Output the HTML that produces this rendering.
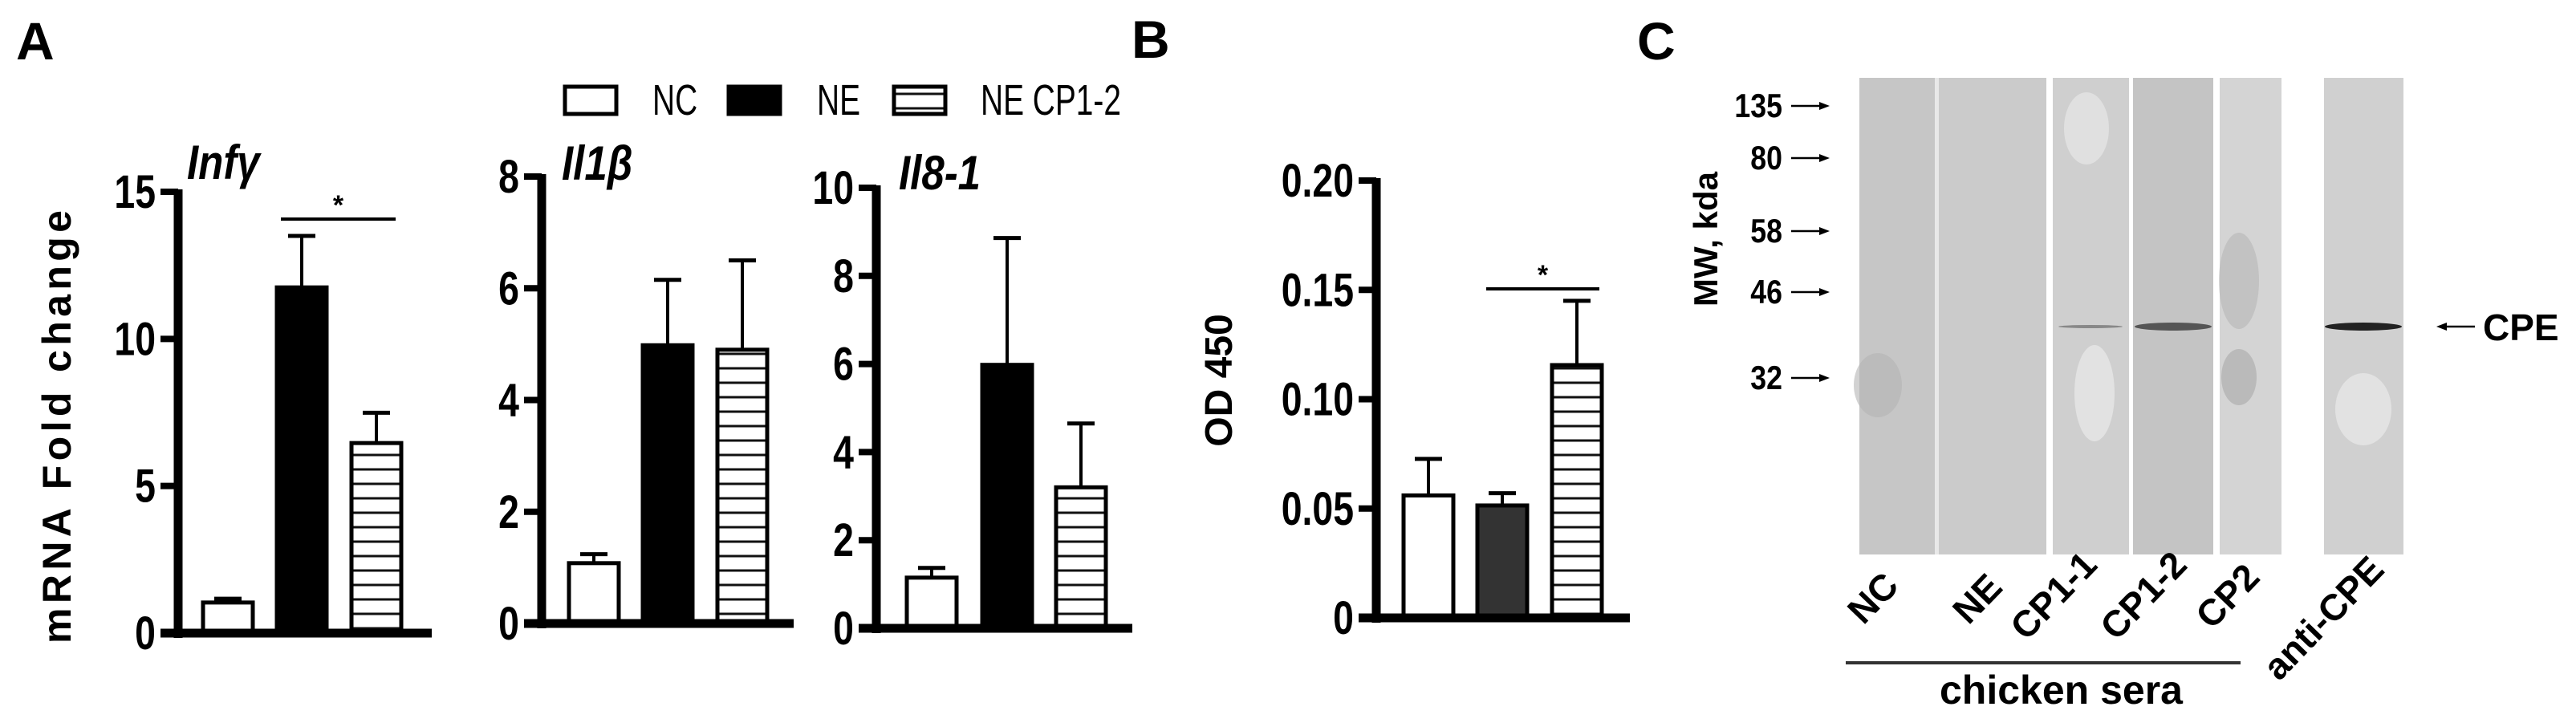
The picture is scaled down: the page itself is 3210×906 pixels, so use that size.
<!DOCTYPE html>
<html><head><meta charset="utf-8"><style>
html,body{margin:0;padding:0;background:#fff;}
svg{display:block;font-family:"Liberation Sans",sans-serif;}
</style></head><body>
<svg id="fig" width="3210" height="906" viewBox="0 0 3210 906" xmlns="http://www.w3.org/2000/svg">
<defs>
<pattern id="hatch" patternUnits="userSpaceOnUse" width="20" height="18"><rect width="20" height="18" fill="#fff"/><line x1="0" y1="9" x2="20" y2="9" stroke="#111" stroke-width="3"/></pattern>
</defs>
<g font-weight="bold" fill="#000">
<text x="20" y="74" font-size="66">A</text>
<text x="1410" y="72" font-size="66">B</text>
<text x="2040" y="74" font-size="66">C</text>
</g>
<g font-size="54">
<g><rect x="704" y="108" width="64" height="34" fill="#fff" stroke="#000" stroke-width="5"/><text transform="translate(813 143) scale(0.72 1)">NC</text></g>
<g><rect x="908" y="108" width="64" height="34" fill="#000" stroke="#000" stroke-width="5"/><text transform="translate(1018 143) scale(0.72 1)">NE</text></g>
<g><rect x="1114" y="108" width="64" height="34" fill="url(#hatch)" stroke="#000" stroke-width="5"/><text transform="translate(1222 143) scale(0.72 1)">NE CP1-2</text></g>
</g>
<text transform="translate(88 532) rotate(-90)" text-anchor="middle" font-size="50" font-weight="bold" textLength="540">mRNA Fold change</text>
<text transform="translate(1535 474) rotate(-90)" text-anchor="middle" font-size="48" font-weight="bold">OD 450</text>
<g id="charts"></g>
<g id="blot"></g>
</svg>
<script>
// chart data
const groups = ["NC", "NE", "NE CP1-2"];
const infgValues = [1.04, 11.75, 6.46];
const infgErrors = [1.17, 13.5, 7.49];
const infgTicks = ["0", "5", "10", "15"];
const il1bValues = [1.08, 4.98, 4.9];
const il1bErrors = [1.24, 6.15, 6.5];
const il1bTicks = ["0", "2", "4", "6", "8"];
const il8Values = [1.15, 5.98, 3.2];
const il8Errors = [1.37, 8.86, 4.65];
const il8Ticks = ["0", "2", "4", "6", "8", "10"];
const odValues = [0.056, 0.0514, 0.1156];
const odErrors = [0.0727, 0.057, 0.145];
const odTicks = ["0", "0.05", "0.10", "0.15", "0.20"];
const mwLabels = ["135", "80", "58", "46", "32"];
const laneLabels = ["NC", "NE", "CP1-1", "CP1-2", "CP2", "anti-CPE"];

const NS = "http://www.w3.org/2000/svg";
function mk(tag, attrs, parent){const e=document.createElementNS(NS,tag);for(const k in attrs)e.setAttribute(k,attrs[k]);parent.appendChild(e);return e;}
const charts = document.getElementById('charts');

const panels = [
 {key:'infg', title:'Infγ', vals:infgValues, errs:infgErrors, ticks:infgTicks, max:15, axisX:222, y0:789, yTop:239, xEnd:538, bars:[253,345,438], bw:62, tx:233, ty:223, fills:['#fff','#000','url(#hatch)'], sig:{x1:350,x2:493,y:273}},
 {key:'il1b', title:'Il1β', vals:il1bValues, errs:il1bErrors, ticks:il1bTicks, max:8, axisX:675, y0:777, yTop:220, xEnd:989, bars:[709,801,894], bw:62, tx:700, ty:224, fills:['#fff','#000','url(#hatch)']},
 {key:'il8', title:'Il8-1', vals:il8Values, errs:il8Errors, ticks:il8Ticks, max:10, axisX:1092, y0:783, yTop:234, xEnd:1411, bars:[1130,1224,1316], bw:62, tx:1120, ty:236, fills:['#fff','#000','url(#hatch)']},
 {key:'od', title:'', vals:odValues, errs:odErrors, ticks:odTicks, max:0.20, axisX:1715, y0:770, yTop:225, xEnd:2031, bars:[1749,1841,1934], bw:62, fills:['#fff','#333','url(#hatch)'], sig:{x1:1852,x2:1993,y:360}}
];

panels.forEach(p=>{
  const g = mk('g',{},charts);
  
  
  const y = v => p.y0 - (v/p.max)*(p.y0-p.yTop);
  p.vals.forEach((v,i)=>{
    const x = p.bars[i];
    const r = mk('rect',{x:x, y:y(v), width:p.bw, height:p.y0-y(v), fill:p.fills[i], stroke:'#000', 'stroke-width':5},g);
    
    
    const cx = x + p.bw/2;
    const e1 = mk('line',{x1:cx,x2:cx,y1:y(v),y2:y(p.errs[i]),stroke:'#000','stroke-width':4},g);
    
    
    mk('line',{x1:cx-17,x2:cx+17,y1:y(p.errs[i]),y2:y(p.errs[i]),stroke:'#000','stroke-width':5},g);
  });
  const ya = mk('line',{x1:p.axisX,x2:p.axisX,y1:p.yTop-3,y2:p.y0+6,stroke:'#000','stroke-width':11},g);
  
  
  const xa = mk('line',{x1:p.axisX-22,x2:p.xEnd,y1:p.y0,y2:p.y0,stroke:'#000','stroke-width':11},g);
  
  
  p.ticks.forEach((t,i)=>{
    const v = parseFloat(t);
    const ty = y(v);
    mk('line',{x1:p.axisX-22,x2:p.axisX,y1:ty,y2:ty,stroke:'#000','stroke-width':8},g);
    const tx = mk('text',{transform:`translate(${p.axisX-28} ${ty+20}) scale(0.8 1)`,'text-anchor':'end','font-size':58,'font-weight':'bold'},g);
    tx.textContent = t;
    
    
  });
  if(p.title){
    const tt = mk('text',{transform:`translate(${p.tx} ${p.ty}) scale(0.85 1)`,'font-size':60,'font-weight':'bold','font-style':'italic'},g);
    tt.textContent = p.title;
    
    
  }
  if(p.sig){
    const sl = mk('line',{x1:p.sig.x1,x2:p.sig.x2,y1:p.sig.y,y2:p.sig.y,stroke:'#000','stroke-width':4},g);
    
    
    const st = mk('text',{x:(p.sig.x1+p.sig.x2)/2,y:p.sig.y-6,'text-anchor':'middle','font-size':34,'font-weight':'bold'},g);
    st.textContent = '*';
    
    
  }
});

// Western blot
const blot = document.getElementById('blot');
const strips = [[2317,2411,'#c6c6c6'],[2416,2550,'#cbcbcb'],[2558,2653,'#cfcfcf'],[2658,2758,'#c4c4c4'],[2766,2843,'#d4d4d4'],[2896,2995,'#d0d0d0']];
strips.forEach((s,i)=>{
  const r = mk('rect',{x:s[0],y:97,width:s[1]-s[0],height:594,fill:s[2]},blot);
  
  
});
mk('rect',{x:2411,y:97,width:5,height:594,fill:'#e8e8e8'},blot);
mk('ellipse',{cx:2600,cy:160,rx:28,ry:45,fill:'#e0e0e0'},blot);
mk('ellipse',{cx:2610,cy:490,rx:25,ry:60,fill:'#e2e2e2'},blot);
mk('ellipse',{cx:2945,cy:510,rx:35,ry:45,fill:'#e2e2e2'},blot);
mk('ellipse',{cx:2340,cy:480,rx:30,ry:40,fill:'#b4b4b4',opacity:0.6},blot);
mk('ellipse',{cx:2790,cy:470,rx:22,ry:35,fill:'#a8a8a8',opacity:0.6},blot);
mk('ellipse',{cx:2790,cy:350,rx:25,ry:60,fill:'#b0b0b0',opacity:0.5},blot);
[[2708,48,5,'#555'],[2945,48,5,'#222'],[2605,40,2,'#888']].forEach(b=>{
  const e = mk('ellipse',{cx:b[0],cy:407,rx:b[1],ry:b[2],fill:b[3]},blot);
  
  
});
const mwY = [132,197,288,364,471];
mwLabels.forEach((m,i)=>{
  const t = mk('text',{transform:`translate(2221 ${mwY[i]+14}) scale(0.85 1)`,'text-anchor':'end','font-size':42,'font-weight':'bold'},blot);
  t.textContent = m;
  
  
  mk('line',{x1:2232,x2:2268,y1:mwY[i],y2:mwY[i],stroke:'#000','stroke-width':2.5},blot);
  mk('path',{d:`M2280 ${mwY[i]} l-13 -5 v10 z`,fill:'#000'},blot);
});
const mwt = mk('text',{transform:'translate(2140 298) rotate(-90)','text-anchor':'middle','font-size':42,'font-weight':'bold'},blot);
mwt.textContent = 'MW, kda';


mk('line',{x1:3048,x2:3084,y1:407,y2:407,stroke:'#000','stroke-width':2.5},blot);
mk('path',{d:'M3036 407 l13 -5 v10 z',fill:'#000'},blot);
const cpe = mk('text',{x:3094,y:424,'font-size':46,'font-weight':'bold'},blot);
cpe.textContent = 'CPE';


const laneStarts = [[2322,780],[2453,780],[2525,800],[2637,800],[2756,786],[2840,850]];
laneLabels.forEach((l,i)=>{
  const t = mk('text',{transform:`translate(${laneStarts[i][0]} ${laneStarts[i][1]}) rotate(-46)`,'font-size':46,'font-weight':'bold'},blot);
  t.textContent = l;
  
  
});
const ul = mk('line',{x1:2300,x2:2792,y1:826,y2:826,stroke:'#333','stroke-width':4},blot);


const cs = mk('text',{x:2417,y:877,'font-size':50,'font-weight':'bold'},blot);
cs.textContent = 'chicken sera';


</script>
</body></html>
